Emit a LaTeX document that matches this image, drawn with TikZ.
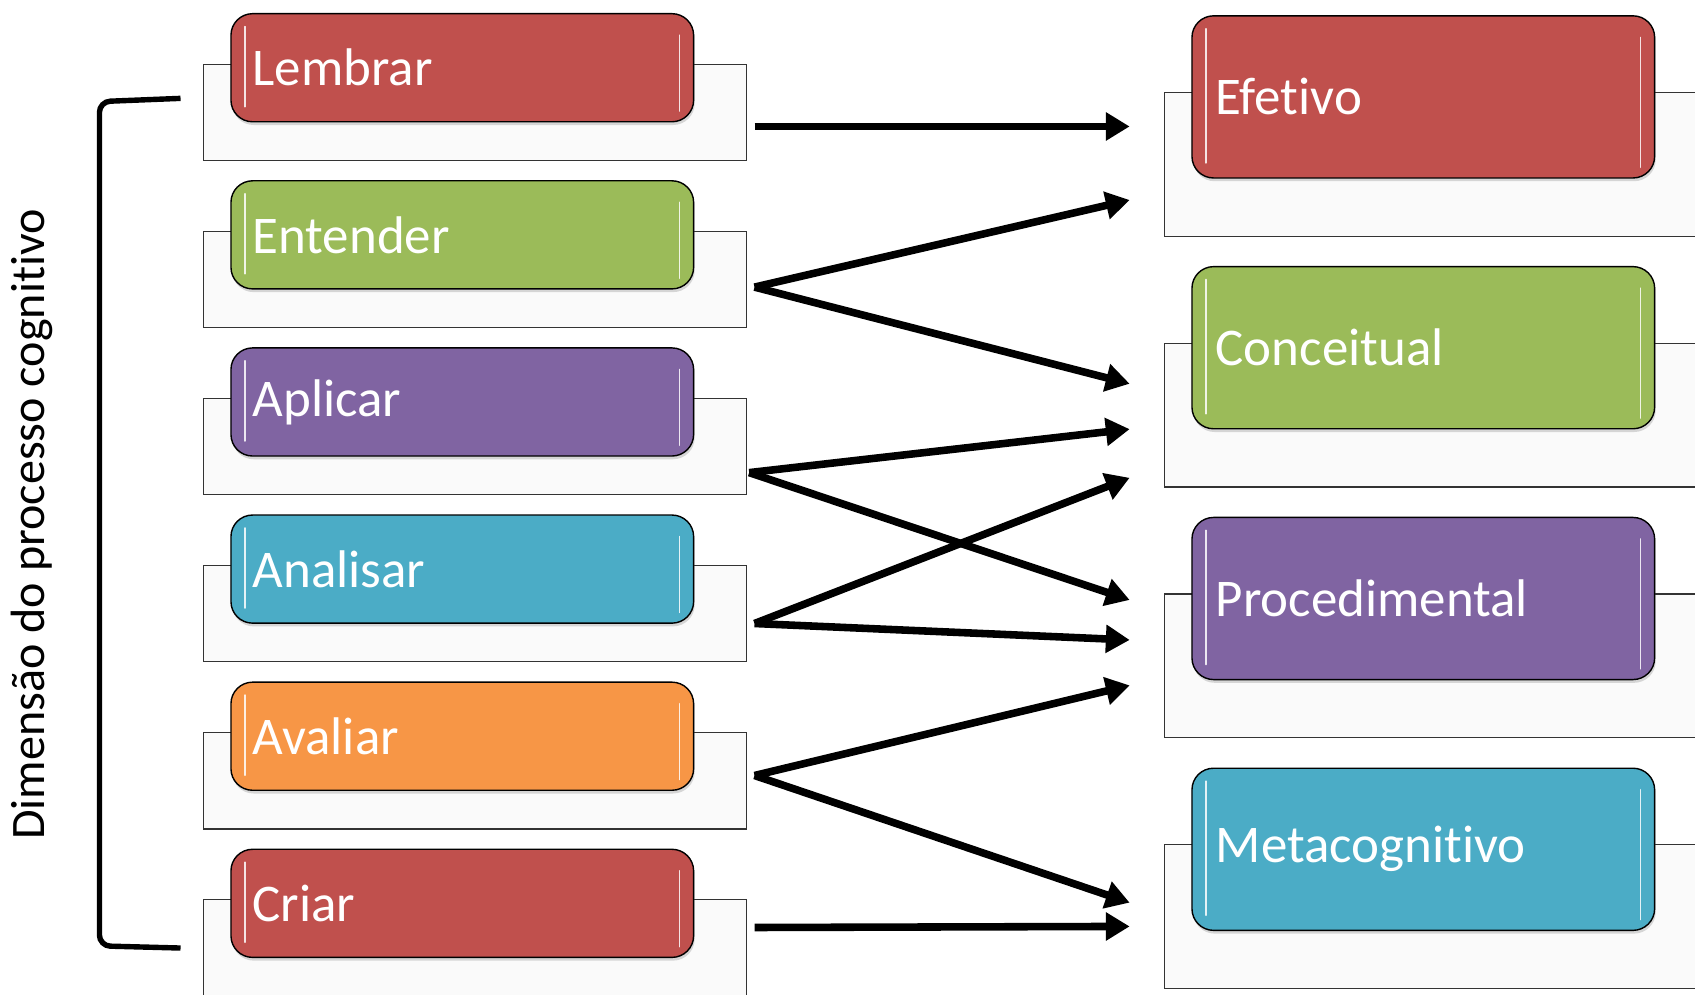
\documentclass[tikz,border=0pt]{standalone}
\usepackage{fontspec}
\setmainfont{Carlito}[RawFeature=-liga]
\usetikzlibrary{arrows.meta}
\usetikzlibrary{shadows}

\definecolor{vermelho}{HTML}{C0504D}
\definecolor{verde}{HTML}{9BBB59}
\definecolor{roxo}{HTML}{8064A2}
\definecolor{azul}{HTML}{4BACC6}
\definecolor{laranja}{HTML}{F79646}

\tikzset{
  fundo/.style={draw=black!80, fill=black!2, line width=1pt, anchor=north west, inner sep=0pt},
  brilho/.style={path picture={
      \draw[white, line width=1.6pt, opacity=0.85, line cap=round]
        ([xshift=13pt, yshift=-12pt]path picture bounding box.north west) --
        ([xshift=13pt, yshift=14pt]path picture bounding box.south west);
      \draw[white, line width=1.6pt, opacity=0.85, line cap=round]
        ([xshift=-13pt, yshift=-20pt]path picture bounding box.north east) --
        ([xshift=-13pt, yshift=10pt]path picture bounding box.south east);
  }},
  caixa/.style={draw=black, line width=1.3pt, rounded corners=20pt, anchor=north west,
    brilho, drop shadow={shadow xshift=1pt, shadow yshift=-3pt, opacity=0.3},
    text=white, font=\fontsize{49}{49}\selectfont, inner xsep=20pt,
    text width=388pt, align=left, minimum height=100pt},
  seta/.style={line width=7pt, -{Triangle[length=22pt, width=25pt]}}
}

\begin{document}
\begin{tikzpicture}[x=1pt, y=-1pt]

    % Fundo e recorte
    \fill[white] (0,0) rectangle (1568,920);
    \clip (0,0) rectangle (1568,920);

    % --- Dimensão do processo cognitivo (coluna esquerda) ---
    \foreach \i/\nome/\texto/\cor in {0/lem/Lembrar/vermelho, 1/ent/Entender/verde,
        2/apl/Aplicar/roxo, 3/ana/Analisar/azul, 4/ava/Avaliar/laranja, 5/cri/Criar/vermelho} {
        \node[fundo, minimum width=502pt, minimum height=89pt] (f\nome) at (188, {59+154.6*\i}) {};
        \node[caixa, fill=\cor] (\nome) at (213, {12+154.6*\i}) {\texto};
    }

    % --- Dimensão do conhecimento (coluna direita) ---
    \foreach \j/\nome/\texto/\cor in {0/efe/Efetivo/vermelho, 1/con/Conceitual/verde,
        2/pro/Procedimental/roxo, 3/met/Metacognitivo/azul} {
        \node[fundo, minimum width=560pt, minimum height=133pt] (f\nome) at (1077, {85+232*\j}) {};
        \node[caixa, fill=\cor, minimum height=150pt, inner xsep=22pt, text width=384pt] (\nome) at (1102, {14+232*\j}) {\texto};
    }

    % Chave e rótulo vertical
    \draw[line width=5pt, rounded corners=10pt] (167,91) -- (92,94) -- (92,875) -- (167,877);
    \node[rotate=90, font=\fontsize{44.5}{44.5}\selectfont] (dim) at (30,485) {Dimensão do processo cognitivo};

    % Pontos de saída
    \coordinate (slem) at ([xshift=7pt, yshift=-13pt]flem.east);
    \coordinate (sent) at ([xshift=7pt, yshift=-7pt]fent.east);
    \coordinate (sapl) at ([xshift=2pt, yshift=-24pt]fapl.east);
    \coordinate (sana) at ([xshift=7pt, yshift=-9pt]fana.east);
    \coordinate (sava) at ([xshift=7pt, yshift=5pt]fava.east);
    \coordinate (scri) at ([xshift=7pt, yshift=19pt]fcri.east);

    % Pontos de chegada
    \coordinate (ef1) at (1045,117);
    \coordinate (ef2) at (1045,185);
    \coordinate (co1) at (1045,355);
    \coordinate (co2) at (1045,397);
    \coordinate (co3) at (1045,442);
    \coordinate (pr1) at (1045,555);
    \coordinate (pr2) at (1045,592);
    \coordinate (pr3) at (1045,634);
    \coordinate (me1) at (1045,835);
    \coordinate (me2) at (1045,857);

    % Setas
    \draw[seta] (slem) -- (ef1);
    \draw[seta] (sent) -- (ef2);
    \draw[seta] (sent) -- (co1);
    \draw[seta] (sapl) -- (co2);
    \draw[seta] (sapl) -- (pr1);
    \draw[seta] (sana) -- (co3);
    \draw[seta] (sana) -- (pr2);
    \draw[seta] (sava) -- (pr3);
    \draw[seta] (sava) -- (me1);
    \draw[seta] (scri) -- (me2);

\end{tikzpicture}
\end{document}
